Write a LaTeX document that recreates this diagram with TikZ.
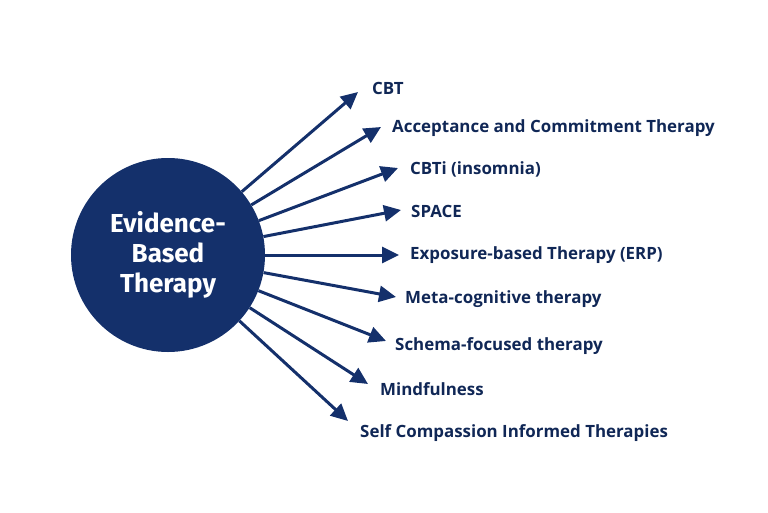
\documentclass[tikz,border=0pt]{standalone}
\usepackage{fontspec}
\setmainfont{Fira Sans}
\newfontfamily\labelfont{Open Sans}
\usetikzlibrary{positioning,arrows.meta}
\definecolor{navy}{HTML}{14306B}
\tikzset{
  hub/.style={circle, fill=navy, minimum size=194pt, align=center, text=white, font=\fontsize{26}{30}\selectfont\bfseries},
  therapy/.style={anchor=west, text=navy!80!black, font=\labelfont\fontsize{16.9}{19}\selectfont\bfseries, inner sep=0pt},
  branch/.style={draw=navy, line width=3pt, -{Triangle[length=17pt,width=16pt]}},
}
\begin{document}
\begin{tikzpicture}[x=1pt,y=-1pt]
\useasboundingbox (0,0) rectangle (768,512);
% the hub
\node [hub] (ebt) at (168,255) {Evidence-\\Based\\Therapy};
% arrow ends
\coordinate (tA) at (358,92);
\coordinate (tB) at (381,127);
\coordinate (tC) at (398,168);
\coordinate (tD) at (401,210);
\coordinate (tE) at (399,255);
\coordinate (tF) at (396,297);
\coordinate (tG) at (386,341);
\coordinate (tH) at (368,384);
\coordinate (tI) at (348,421);
% the labels
\node [therapy] (cbt) at (372,88) {CBT};
\node [therapy] (act) at (392,128) {Acceptance and Commitment Therapy};
\node [therapy] (cbti) at (410,169) {CBTi (insomnia)};
\node [therapy] (space) at (411,211) {SPACE};
\node [therapy] (erp) at (410,255) {Exposure-based Therapy (ERP)};
\node [therapy] (meta) at (405,299) {Meta-cognitive therapy};
\node [therapy] (schema) at (395,346) {Schema-focused therapy};
\node [therapy] (mind) at (380,389) {Mindfulness};
\node [therapy] (self) at (360,433) {Self Compassion Informed Therapies};
%drawings of vectors
\draw[branch] (ebt) -- (tA);
\draw[branch] (ebt) -- (tB);
\draw[branch] (ebt) -- (tC);
\draw[branch] (ebt) -- (tD);
\draw[branch] (ebt) -- (tE);
\draw[branch] (ebt) -- (tF);
\draw[branch] (ebt) -- (tG);
\draw[branch] (ebt) -- (tH);
\draw[branch] (ebt) -- (tI);
\end{tikzpicture}
\end{document}
